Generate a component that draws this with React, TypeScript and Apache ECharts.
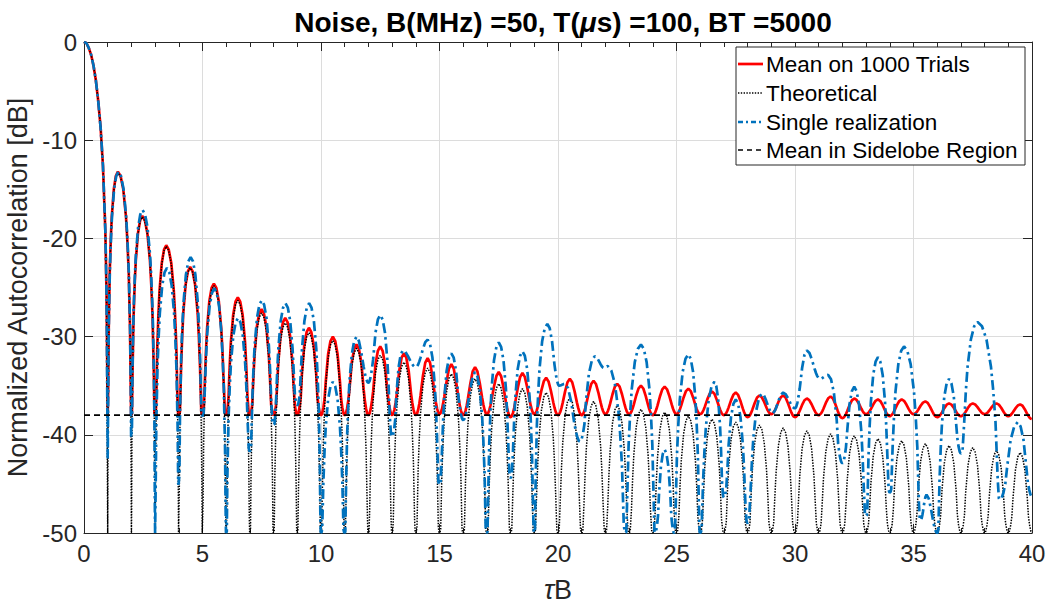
import React, { useEffect, useRef } from "react";
import * as echarts from "echarts";

// ---------------- data ----------------
const xMin = 0;
const xMax = 40;
const yMin = -50;
const yMax = 0;
const xInterval = 5;
const yInterval = 10;

// main lobe (identical for the three curves), tau*B vs dB
const mainLobeX = [0, 0.1, 0.2, 0.3, 0.4, 0.5, 0.6, 0.7, 0.8, 0.9, 0.95];
const mainLobeY = [0, -0.1, -0.6, -1.3, -2.4, -3.9, -6.0, -8.7, -12.6, -19.2, -25.4];

// theoretical curve: nulls and lobe peaks
const theoryNullX = [1, 2, 3, 4, 5, 6, 7, 8, 9, 10, 11, 12, 13, 14, 15, 16, 17, 18, 19, 20, 21, 22, 23, 24, 25, 26, 27, 28, 29, 30, 31, 32, 33, 34, 35, 36, 37, 38, 39, 40];
const theoryNullY = [-50, -50, -50, -50, -50, -50, -50, -50, -50, -50, -50, -50, -50, -50, -50, -50, -50, -50, -50, -50, -50, -50, -50, -50, -50, -50, -50, -50, -50, -50, -50, -50, -50, -50, -50, -50, -50, -50, -50, -50];
const theoryPeakX = [1.43, 2.46, 3.47, 4.48, 5.48, 6.49, 7.49, 8.49, 9.49, 10.5, 11.5, 12.5, 13.5, 14.5, 15.5, 16.5, 17.5, 18.5, 19.5, 20.5, 21.5, 22.5, 23.5, 24.5, 25.5, 26.5, 27.5, 28.5, 29.5, 30.5, 31.5, 32.5, 33.5, 34.5, 35.5, 36.5, 37.5, 38.5, 39.5];
const theoryPeakY = [-13.3, -17.8, -20.8, -23.0, -24.8, -26.3, -27.6, -28.6, -29.6, -30.4, -31.2, -31.9, -32.6, -33.2, -33.8, -34.3, -34.8, -35.3, -35.7, -36.2, -36.6, -37.0, -37.4, -37.7, -38.1, -38.4, -38.7, -39.0, -39.3, -39.6, -39.9, -40.1, -40.4, -40.6, -40.9, -41.1, -41.3, -41.6, -41.8];

// mean on 1000 trials: minima at integers and lobe peaks
const meanNullY = [-38.0, -38.0, -38.0, -38.0, -38.0, -38.0, -38.0, -38.0, -38.0, -38.0, -38.0, -38.0, -38.0, -38.0, -37.9, -38.0, -37.9, -38.2, -37.9, -38.0, -38.0, -37.9, -37.9, -38.0, -37.9, -37.9, -38.0, -38.2, -37.9, -38.2, -38.0, -38.3, -37.9, -38.1, -37.9, -38.2, -38.1, -37.9, -38.1, -38.4];
const meanPeakY = [-13.2, -17.7, -20.7, -22.9, -24.6, -26.0, -27.2, -28.1, -29.1, -30.0, -30.8, -31.0, -31.7, -32.2, -32.8, -33.1, -33.6, -33.7, -34.2, -34.3, -34.5, -34.8, -35.0, -35.1, -35.3, -35.6, -35.7, -36.0, -36.0, -36.3, -36.1, -36.3, -36.4, -36.4, -36.6, -36.8, -36.8, -36.8, -36.9];

// single realization: minima and lobe peaks
const blueNullX = [1, 2, 3, 4, 5, 6, 7, 8, 9, 10, 11, 12, 13, 14, 15, 16, 17, 18, 19, 20.05, 20.93, 21.95, 22.85, 24.1, 24.9, 26, 27, 28, 29.05, 30, 31.05, 32, 33, 34, 35.3, 36, 37, 38.65, 40];
const blueNullY = [-42.4, -40.3, -50, -45.1, -38.1, -50, -41.7, -39.0, -37.0, -50, -50, -34.7, -40.2, -33.1, -45.1, -38.5, -50, -44.4, -50, -35.0, -40.7, -33.2, -50, -50, -50, -50, -46.4, -49.0, -37.8, -37.3, -34.3, -42.9, -48.3, -45.9, -48.7, -50, -41.9, -46.6, -46.3];
const bluePeakX = [1.45, 2.47, 3.5, 4.5, 5.5, 6.5, 7.5, 8.5, 9.5, 10.5, 11.5, 12.5, 13.45, 14.5, 15.5, 16.5, 17.5, 18.5, 19.55, 20.3, 21.55, 22.1, 23.5, 24.5, 25.5, 26.6, 27.5, 28.6, 29.5, 30.5, 31.4, 32.5, 33.5, 34.6, 35.55, 36.5, 37.7, 39.4];
const bluePeakY = [-13.2, -17.1, -23.0, -21.9, -25.1, -28.1, -26.3, -26.6, -26.6, -34.6, -30.0, -27.8, -31.4, -30.3, -31.7, -33.6, -30.6, -31.5, -28.7, -34.8, -32.0, -33.0, -30.8, -41.5, -31.8, -34.6, -36.4, -35.8, -35.7, -31.4, -33.9, -35.1, -32.1, -31.0, -46.1, -34.3, -28.5, -38.7];

// mean in sidelobe region
const sidelobeMean = -38.0;

// shape of one lobe as seen in the picture: position (fraction of lobe width from the null),
// dB below the lobe top, and share of the null-to-top rise
const lobeT = [0.01, 0.025, 0.05, 0.1, 0.15, 0.2, 0.3, 0.4];
const lobeDrop = [30.1, 22.1, 16.1, 10.2, 7.0, 4.6, 1.8, 0.45];
const lobeFrac = [0.001, 0.006, 0.024, 0.095, 0.206, 0.345, 0.655, 0.905];

const legendNames = ["Mean on 1000 Trials", "Theoretical", "Single realization", "Mean in Sidelobe Region"];
const titleText = "Noise, B(MHz) =50, T({m|\u03bc}s) =100, BT =5000";

// ---------------------------------------------------------------------
function buildCurve(nullX: number[], nullY: number[], peakX: number[], peakY: number[]) {
  const pts: number[][] = mainLobeX.map((x, i) => [x, mainLobeY[i]]);
  for (let i = 0; i < peakX.length; i++) {
    const x0 = nullX[i];
    const x1 = nullX[i + 1];
    const y0 = nullY[i];
    const y1 = nullY[i + 1];
    const px = peakX[i];
    const py = peakY[i];
    pts.push([x0, y0]);
    for (let j = 0; j < lobeT.length; j++) {
      const u = lobeT[j] / 0.5;
      pts.push([x0 + u * (px - x0), Math.max(py - lobeDrop[j], y0 + (py - y0) * lobeFrac[j])]);
    }
    pts.push([px, py]);
    for (let j = lobeT.length - 1; j >= 0; j--) {
      const u = lobeT[j] / 0.5;
      pts.push([x1 - u * (x1 - px), Math.max(py - lobeDrop[j], y1 + (py - y1) * lobeFrac[j])]);
    }
  }
  pts.push([nullX[nullX.length - 1], nullY[nullY.length - 1]]);
  return pts;
}

const FONT = "'Liberation Sans', Arial, Helvetica, sans-serif";
const AX = "#262626";

export default function App() {
  const ref = useRef<HTMLDivElement>(null);
  useEffect(() => {
    if (!ref.current) return;
    const chart = echarts.init(ref.current, null, { renderer: "svg" });
    const theory = buildCurve(theoryNullX, theoryNullY, theoryPeakX, theoryPeakY);
    const mean = buildCurve(theoryNullX, meanNullY, theoryPeakX, meanPeakY);
    const single = buildCurve(blueNullX, blueNullY, bluePeakX, bluePeakY);

    const gridL = 84, gridT = 42, gridW = 948, gridH = 491;

    const xCommon = {
      type: "value",
      min: xMin,
      max: xMax,
      interval: xInterval,
      axisLine: { show: true, onZero: false, lineStyle: { color: AX, width: 1 } },
      axisTick: { show: true, inside: true, length: 9, lineStyle: { color: AX, width: 1 } },
      minorTick: { show: true, splitNumber: 5, length: 5, lineStyle: { color: AX, width: 1 } },
    };
    const yCommon = {
      type: "value",
      min: yMin,
      max: yMax,
      interval: yInterval,
      axisLine: { show: true, onZero: false, lineStyle: { color: AX, width: 1 } },
      axisTick: { show: true, inside: true, length: 9, lineStyle: { color: AX, width: 1 } },
    };

    const lx1 = 738, lx2 = 763, tx = 766;
    const rows = [64, 93, 122, 150];
    const legendFont = `22.5px ${FONT}`;

    chart.setOption({
      animation: false,
      backgroundColor: "#ffffff",
      title: {
        text: titleText,
        left: 558,
        top: 3,
        textAlign: "center",
        textStyle: {
          fontFamily: FONT,
          fontSize: 28,
          fontWeight: "bold",
          color: "#000000",
          rich: { m: { fontFamily: FONT, fontSize: 28, fontWeight: "bold", fontStyle: "italic", color: "#000000" } },
        },
      },
      grid: {
        left: gridL,
        top: gridT,
        width: gridW,
        height: gridH,
        containLabel: false,
        outerBoundsMode: "none",
      },
      xAxis: [
        {
          ...xCommon,
          position: "bottom",
          splitLine: { show: true, lineStyle: { color: "#dcdcdc", width: 1 } },
          axisLabel: { show: true, fontFamily: FONT, fontSize: 24, color: AX, margin: 8 },
          name: "{i|\u03c4}B",
          nameLocation: "middle",
          nameGap: 43,
          nameTextStyle: {
            fontFamily: FONT,
            fontSize: 27,
            color: AX,
            rich: { i: { fontFamily: FONT, fontSize: 27, fontStyle: "italic", color: AX } },
          },
        },
        {
          ...xCommon,
          position: "top",
          splitLine: { show: false },
          axisLabel: { show: false },
        },
      ],
      yAxis: [
        {
          ...yCommon,
          position: "left",
          splitLine: { show: true, lineStyle: { color: "#dcdcdc", width: 1 } },
          axisLabel: { show: true, fontFamily: FONT, fontSize: 24, color: AX, margin: 7 },
          name: "Normalized Autocorrelation [dB]",
          nameLocation: "middle",
          nameGap: 45,
          nameTextStyle: { fontFamily: FONT, fontSize: 27, color: AX },
        },
        {
          ...yCommon,
          position: "right",
          splitLine: { show: false },
          axisLabel: { show: false },
        },
      ],
      series: [
        {
          name: legendNames[0],
          type: "line",
          data: mean,
          showSymbol: false,
          symbol: "none",
          clip: true,
          lineStyle: { color: "#ff0000", width: 2.7, type: "solid" },
          z: 3,
        },
        {
          name: legendNames[1],
          type: "line",
          data: theory,
          showSymbol: false,
          symbol: "none",
          clip: true,
          lineStyle: { color: "#000000", width: 1.5, type: [1.5, 1.3] },
          z: 4,
        },
        {
          name: legendNames[2],
          type: "line",
          data: single,
          showSymbol: false,
          symbol: "none",
          clip: true,
          lineStyle: { color: "#0072bd", width: 2.7, type: [10, 4, 2.5, 4] },
          z: 5,
        },
        {
          name: legendNames[3],
          type: "line",
          data: [
            [xMin, sidelobeMean],
            [xMax, sidelobeMean],
          ],
          showSymbol: false,
          symbol: "none",
          lineStyle: { color: "#000000", width: 1.6, type: [6, 4] },
          z: 6,
        },
      ],
      graphic: [
        {
          type: "rect",
          z: 100,
          shape: { x: 736, y: 47, width: 289, height: 118 },
          style: { fill: "#ffffff", stroke: AX, lineWidth: 1 },
        },
        { type: "line", z: 101, shape: { x1: lx1, y1: rows[0], x2: lx2, y2: rows[0] }, style: { stroke: "#ff0000", lineWidth: 2.7 } },
        { type: "line", z: 101, shape: { x1: lx1, y1: rows[1], x2: lx2, y2: rows[1] }, style: { stroke: "#000000", lineWidth: 1.4, lineDash: [1.4, 1.4] } },
        { type: "line", z: 101, shape: { x1: lx1, y1: rows[2], x2: lx2, y2: rows[2] }, style: { stroke: "#0072bd", lineWidth: 2.7, lineDash: [5, 3, 2, 3] } },
        { type: "line", z: 101, shape: { x1: lx1, y1: rows[3], x2: lx2, y2: rows[3] }, style: { stroke: "#000000", lineWidth: 1.5, lineDash: [5, 4] } },
        ...legendNames.map((name, i) => ({
          type: "text",
          z: 101,
          x: tx,
          y: rows[i],
          style: {
            text: name,
            font: legendFont,
            fill: "#000000",
            textAlign: "left",
            textVerticalAlign: "middle",
            align: "left",
            verticalAlign: "middle",
          },
        })),
      ],
    });
    return () => chart.dispose();
  }, []);
  return <div ref={ref} style={{ position: "absolute", left: 0, top: 0, width: 1048, height: 608 }} />;
}
